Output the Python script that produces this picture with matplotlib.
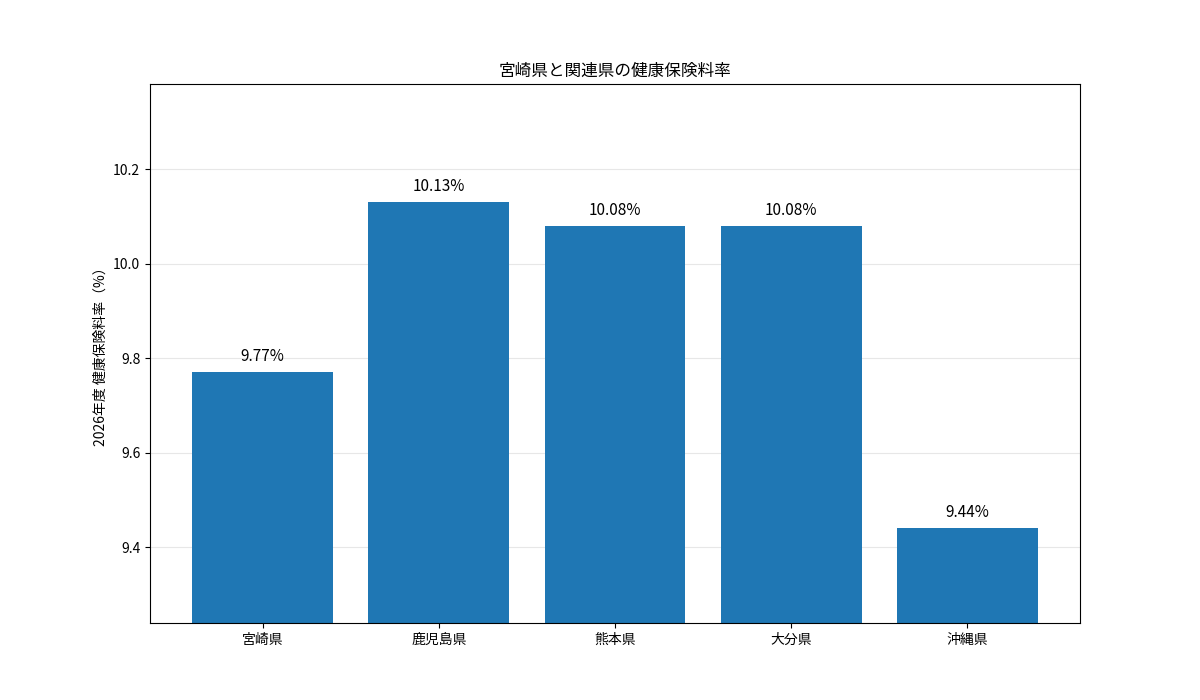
import matplotlib
matplotlib.use("Agg")
import matplotlib.pyplot as plt

plt.rcParams['font.family'] = ['Noto Sans CJK JP', 'DejaVu Sans']

categories = ["宮崎県", "鹿児島県", "熊本県", "大分県", "沖縄県"]
values = [9.77, 10.13, 10.08, 10.08, 9.44]

fig, ax = plt.subplots(figsize=(12, 7), dpi=100)
bars = ax.bar(categories, values, color="#1f77b4", zorder=2)
for b, v in zip(bars, values):
    ax.annotate(f"{v:.2f}%", (b.get_x() + b.get_width() / 2, v), xytext=(0, 5),
                textcoords="offset points", ha="center", va="bottom", fontsize=11)
ax.set_ylim(min(values) - 0.2, max(values) + 0.25)
ax.set_yticks([9.4, 9.6, 9.8, 10.0, 10.2])
ax.grid(axis="y", alpha=0.3, zorder=0)
ax.set_axisbelow(True)
ax.set_ylabel("2026年度 健康保険料率（%）")
ax.set_title("宮崎県と関連県の健康保険料率")
fig.savefig("out.png")
